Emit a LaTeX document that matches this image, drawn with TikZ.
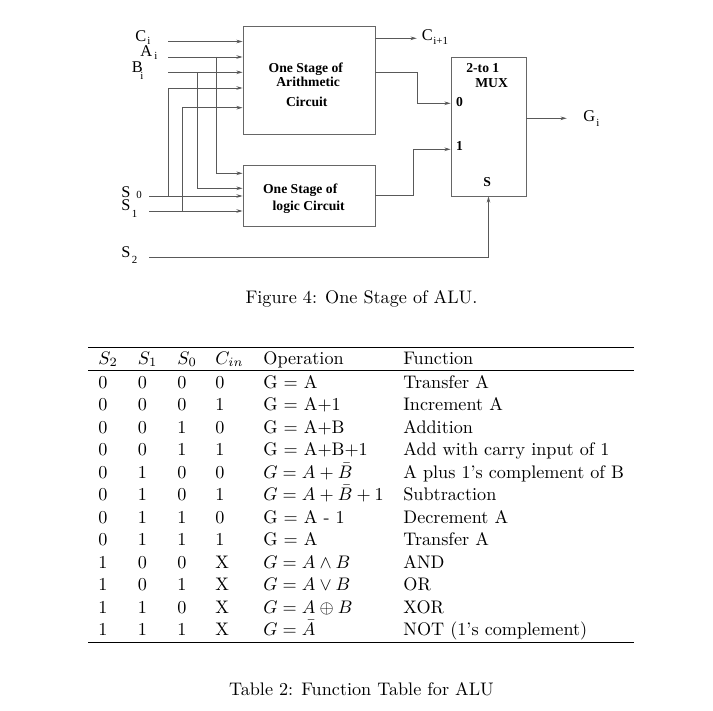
\documentclass[tikz,border=0pt]{standalone}
\usepackage{fontspec}
\newfontfamily\figfont{Liberation Serif}
\usetikzlibrary{arrows.meta,fit}
\begin{document}
\begin{tikzpicture}[x=0.55pt,y=-0.55pt,
  wire/.style={draw=black!65,line width=0.45pt},
  arr/.style={wire,-{Stealth[length=3.4pt,width=2pt]}},
  block/.style={draw=black!60,line width=0.5pt,inner sep=0pt},
  lab/.style={inner sep=0pt,anchor=base west,font=\figfont\fontsize{9}{10}\selectfont},
  sub/.style={inner sep=0pt,anchor=base west,font=\figfont\fontsize{6}{7}\selectfont},
  btxt/.style={inner sep=0pt,anchor=base west,font=\figfont\bfseries\fontsize{7.5}{8}\selectfont},
  cell/.style={inner sep=0pt,anchor=base west},
  tabrule/.style={line width=0.45pt}]
\useasboundingbox (0,0) rectangle (713,711);

% ---- blocks ----
\node[block,fit={(243,26) (375,134)}] (arith) {};
\node[block,fit={(243,165.5) (375,226.5)}] (logic) {};
\node[block,fit={(451,57) (526,196)}] (mux) {};

\node[btxt] (ar1) at (268.3,73) {One Stage of};
\node[btxt] (ar2) at (276,86.7) {Arithmetic};
\node[btxt] (ar3) at (285.7,106.7) {Circuit};
\node[btxt] (lo1) at (262.7,193.3) {One Stage of};
\node[btxt] (lo2) at (272.3,210) {logic Circuit};

\node[btxt] (mx1) at (466,73) {2-to 1};
\node[btxt] (mx2) at (475,88) {MUX};
\node[btxt] (mx0) at (455.7,106.7) {0};
\node[btxt] (mxi) at (455.7,150.5) {1};
\node[btxt] (mxs) at (483,187) {S};

% ---- signal labels ----
\node[lab] (lC) at (135,41.7) {C};
\node[sub] (lCi) at (147,45) {i};
\node[lab] (lA) at (140,57) {A};
\node[sub] (lAi) at (154,60) {i};
\node[lab] (lB) at (131.5,72.7) {B};
\node[sub] (lBi) at (140,80) {i};
\node[lab] (lS0) at (121,198) {S};
\node[sub] (lS0i) at (136,199) {0};
\node[lab] (lS1) at (121,210) {S};
\node[sub] (lS1i) at (131.5,218) {1};
\node[lab] (lS2) at (121,257) {S};
\node[sub] (lS2i) at (131.5,264) {2};
\node[lab] (lCo) at (421.5,40.7) {C};
\node[sub] (lCoi) at (433,45) {i+1};
\node[lab] (lG) at (583,121.7) {G};
\node[sub] (lGi) at (596,126.7) {i};

% ---- wire points ----
\coordinate (c0) at (168,41.5);
\coordinate (a0) at (168,57);
\coordinate (a1) at (216,57);
\coordinate (a2) at (216,173.3);
\coordinate (b0) at (168,72.3);
\coordinate (b1) at (197,72.3);
\coordinate (b2) at (197,188.3);
\coordinate (s0) at (149,196);
\coordinate (s0a) at (168,196);
\coordinate (s0b) at (168,88);
\coordinate (s1) at (149,211);
\coordinate (s1a) at (182,211);
\coordinate (s1b) at (182,107.7);
\coordinate (s2) at (149,257.3);
\coordinate (co) at (416.7,38.3);
\coordinate (k1) at (417.7,72.3);
\coordinate (k2) at (417.7,103.3);
\coordinate (k3) at (413.3,195.7);
\coordinate (k4) at (413.3,149.3);
\coordinate (go) at (566.7,118.3);

% ---- inputs ----
\draw[arr] (c0) -- (arith.west |- c0);
\draw[arr] (a0) -- (arith.west |- a0);
\draw[arr] (a1) -- (a2) -- (logic.west |- a2);
\draw[arr] (b0) -- (arith.west |- b0);
\draw[arr] (b1) -- (b2) -- (logic.west |- b2);
\draw[arr] (s0) -- (logic.west |- s0);
\draw[arr] (s0a) -- (s0b) -- (arith.west |- s0b);
\draw[arr] (s1) -- (logic.west |- s1);
\draw[arr] (s1a) -- (s1b) -- (arith.west |- s1b);
\draw[arr] (s2) -| (mux.south);

% ---- outputs ----
\draw[arr] (arith.east |- co) -- (co);
\draw[arr] (arith.east |- k1) -- (k1) -- (k2) -- (mux.west |- k2);
\draw[arr] (logic.east |- k3) -- (k3) -- (k4) -- (mux.west |- k4);
\draw[arr] (mux.east |- go) -- (go);

\node[anchor=base,inner sep=0pt] (figcap) at (361.5,304) {Figure 4: One Stage of ALU.};

% ---- function table ----
\draw[tabrule] (88,347.5) -- (634,347.5);
\draw[tabrule] (88,370.5) -- (634,370.5);
\draw[tabrule] (88,642) -- (634,642);

\foreach \t/\x [count=\k] in {{$S_2$}/98,{$S_1$}/137.5,{$S_0$}/177,{$C_{in}$}/215,Operation/263,Function/403}
  \node[cell] (h\k) at (\x,364) {\t};

\foreach \a/\b/\c/\d/\op/\fn [count=\r] in {
  0/0/0/0/{G = A}/{Transfer A},
  0/0/0/1/{G = A+1}/{Increment A},
  0/0/1/0/{G = A+B}/{Addition},
  0/0/1/1/{G = A+B+1}/{Add with carry input of 1},
  0/1/0/0/{$G = A+\bar{B}$}/{A plus 1's complement of B},
  0/1/0/1/{$G = A+\bar{B}+1$}/{Subtraction},
  0/1/1/0/{G = A - 1}/{Decrement A},
  0/1/1/1/{G = A}/{Transfer A},
  1/0/0/X/{$G = A\wedge B$}/{AND},
  1/0/1/X/{$G = A\vee B$}/{OR},
  1/1/0/X/{$G = A\oplus B$}/{XOR},
  1/1/1/X/{$G = \bar{A}$}/{NOT (1's complement)}} {
  \pgfmathsetmacro\yy{388+(\r-1)*22.5}
  \node[cell] (r\r x1) at (98,\yy) {\a};
  \node[cell] (r\r x2) at (137.5,\yy) {\b};
  \node[cell] (r\r x3) at (177,\yy) {\c};
  \node[cell] (r\r x4) at (215,\yy) {\d};
  \node[cell] (r\r x5) at (263,\yy) {\op};
  \node[cell] (r\r x6) at (403,\yy) {\fn};
}

\node[anchor=base,inner sep=0pt] (tabcap) at (361.5,695) {Table 2: Function Table for ALU};
\end{tikzpicture}
\end{document}
